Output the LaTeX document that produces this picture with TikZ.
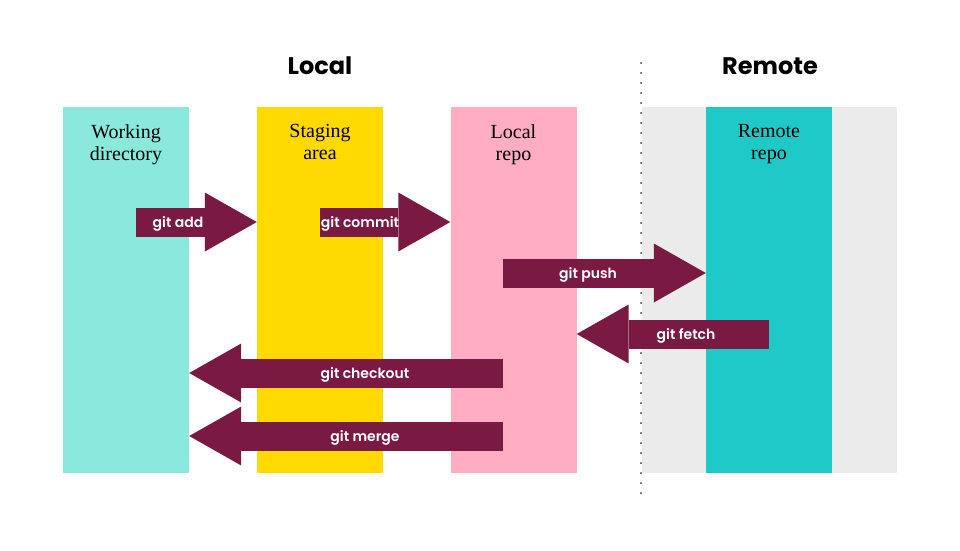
\documentclass[tikz,border=0pt]{standalone}
\usepackage{fontspec}
\setmainfont{Liberation Serif}
\setsansfont{Poppins}[BoldFont={Poppins SemiBold}]
\newfontfamily\headfont{Poppins}
\usepackage{xcolor}
\usetikzlibrary{arrows.meta}

\definecolor{wdcol}{HTML}{8AE8DC}
\definecolor{stagecol}{HTML}{FFD900}
\definecolor{localcol}{HTML}{FFADC2}
\definecolor{remotecol}{HTML}{1FC9C7}
\definecolor{panelcol}{HTML}{EBEBEB}
\definecolor{arrowcol}{HTML}{7A1942}

\begin{document}
\begin{tikzpicture}[
    x=1pt, y=-1pt,
    column/.style={minimum width=126pt, minimum height=366pt, inner sep=0pt},
    colname/.style={font=\fontsize{20}{22}\selectfont, align=center,
        anchor=north, inner sep=0pt},
    title/.style={font=\headfont\bfseries\fontsize{24}{30}\selectfont},
    gitcmd/.style={draw=arrowcol, line width=29pt,
        -{Triangle[length=52pt, width=59pt, line width=0pt]}},
    cmdname/.style={text=white, font=\sffamily\bfseries\fontsize{14}{16}\selectfont}
]
    \useasboundingbox[fill=white] (0,0) rectangle (960,550);

    % local side
    \node[title] (localtitle) at (320,66) {Local};
    \node[column, fill=wdcol] (wd) at (126,290) {};
    \node[colname] (wdname) at (126,124) {Working\\directory};
    \node[column, fill=stagecol] (stage) at (320,290) {};
    \node[colname] (stagename) at (320,124) {Staging\\area};
    \node[column, fill=localcol] (local) at (513.5,290) {};
    \node[colname] (localname) at (513.5,124) {Local\\repo};

    % remote side
    \node[title] (remotetitle) at (770,66) {Remote};
    \node[minimum width=255pt, minimum height=366pt, inner sep=0pt,
        fill=panelcol] (panel) at (769.5,290) {};
    \node[column, fill=remotecol] (remote) at (769,290) {};
    \node[colname] (remotename) at (769,124) {Remote\\repo};

    \coordinate (divtop) at (641,63);
    \coordinate (divbot) at (641,495);
    \draw[black!80, line width=2pt, line cap=round,
        dash pattern=on 0pt off 10pt] (divtop) -- (divbot);

    % commands
    \coordinate (addtail) at (136,222);
    \draw[gitcmd] (addtail) -- (stage.west |- addtail);
    \node[cmdname] (addname) at (178,223.5) {git add};

    \coordinate (committail) at (320,222);
    \draw[gitcmd] (committail) -- (local.west |- committail);
    \node[cmdname] (commitname) at (360,223.5) {git commit};

    \coordinate (pushtail) at (503,273);
    \draw[gitcmd] (pushtail) -- (remote.west |- pushtail);
    \node[cmdname] (pushname) at (588,274.5) {git push};

    \coordinate (fetchtail) at (769,334);
    \draw[gitcmd] (fetchtail) -- (local.east |- fetchtail);
    \node[cmdname] (fetchname) at (686,335.5) {git fetch};

    \coordinate (checkouttail) at (503,373);
    \draw[gitcmd] (checkouttail) -- (wd.east |- checkouttail);
    \node[cmdname] (checkoutname) at (365,374.5) {git checkout};

    \coordinate (mergetail) at (503,436);
    \draw[gitcmd] (mergetail) -- (wd.east |- mergetail);
    \node[cmdname] (mergename) at (365,437.5) {git merge};
\end{tikzpicture}
\end{document}
